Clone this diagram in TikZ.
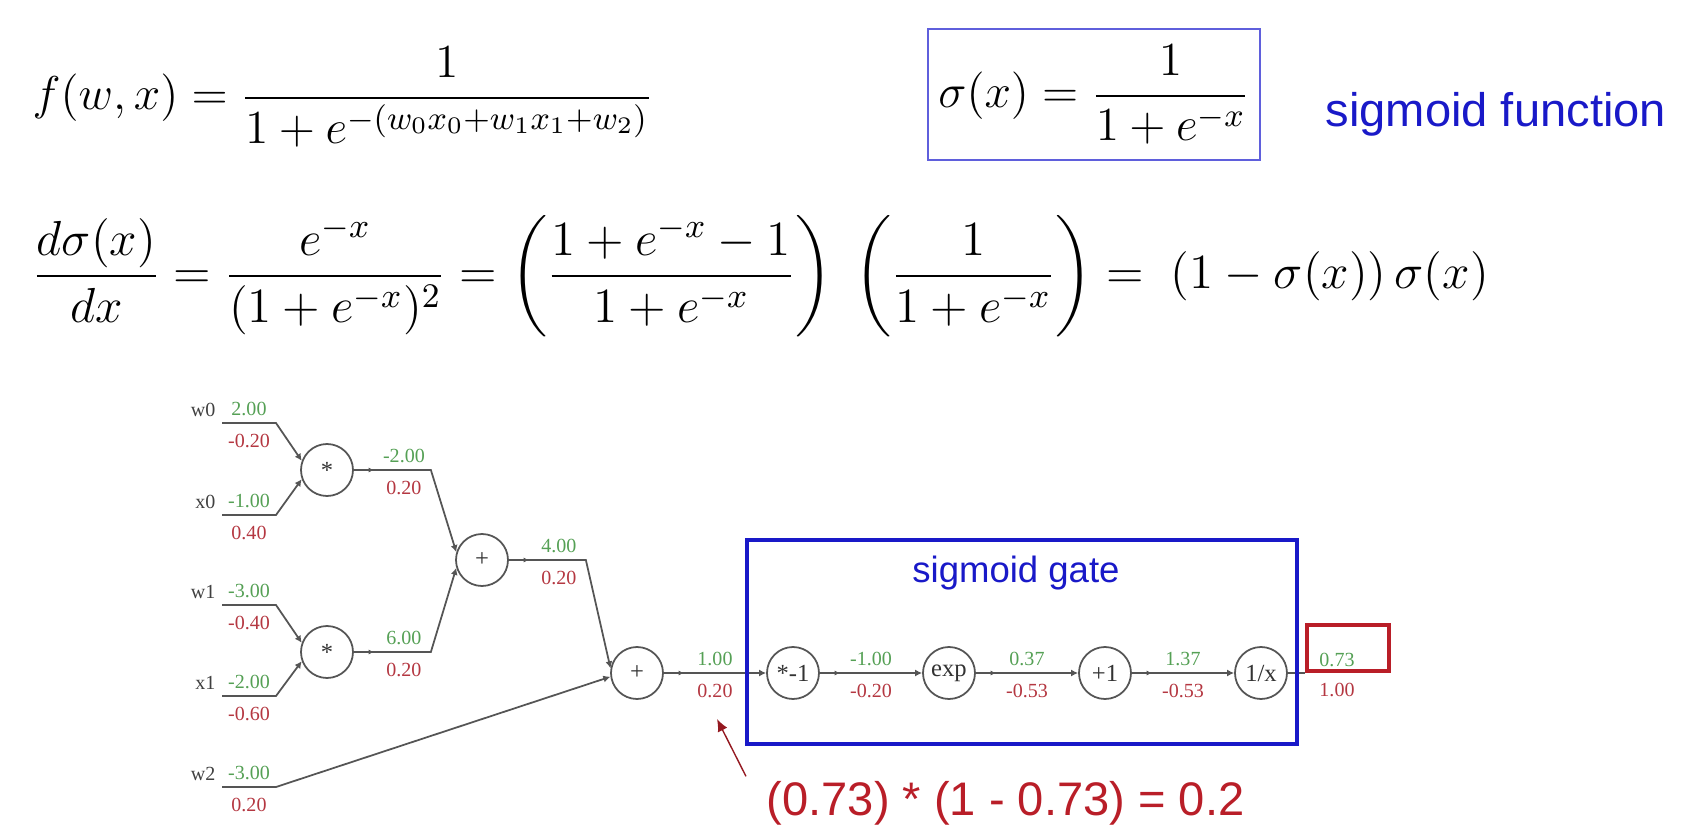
\RequirePackage{fix-cm}
\documentclass[tikz,border=0pt]{standalone}
\usepackage{amsmath}
\usepackage{fontspec}
\usepackage{tikz}
\usetikzlibrary{arrows.meta,positioning,decorations.markings}
\newfontfamily\valfont{Liberation Serif}
\newfontfamily\notefont{Liberation Sans}
\definecolor{valgreen}{RGB}{85,160,85}
\definecolor{valred}{RGB}{180,55,65}
\definecolor{wiregray}{RGB}{85,85,85}
\definecolor{gateblue}{RGB}{25,25,200}
\definecolor{boxblue}{RGB}{95,95,220}
\definecolor{notered}{RGB}{185,30,40}

\begin{document}
\begin{tikzpicture}[
  op/.style={circle,draw=wiregray,line width=0.5pt,minimum size=0.52cm,inner sep=0pt,text=black!80,font=\valfont\fontsize{7}{8}\selectfont},
  wire/.style={draw=wiregray,line width=0.5pt,-{Latex[length=2pt,width=2pt]}},
  flow/.style={wire,postaction={decorate},decoration={markings,mark=at position 0.2cm with {\arrow{Latex[length=1.5pt,width=1.5pt]}}}},
  gval/.style={above,inner sep=1.7pt,text=valgreen,font=\valfont\fontsize{5.7}{6}\selectfont},
  rval/.style={below,inner sep=2.8pt,text=valred,font=\valfont\fontsize{5.7}{6}\selectfont},
  inlbl/.style={above left,inner sep=1.7pt,text=black!75,font=\valfont\fontsize{5.7}{6}\selectfont},
  formula/.style={inner sep=0pt,font=\fontsize{13.5}{16}\selectfont},
  title/.style={text=gateblue,font=\notefont\fontsize{13.4}{16}\selectfont},
]
  \useasboundingbox (0,0) rectangle (16.96,-8.28);

  % formulas on top
  \node[formula,anchor=west] (fdef) at (0.32,-0.97) {$\displaystyle f(w,x)=\frac{1}{1+e^{-(w_0x_0+w_1x_1+w_2)}}$};
  \node[formula,draw=boxblue,line width=0.6pt,inner xsep=0.04cm,minimum width=3.32cm,minimum height=1.31cm] (sdef) at (10.94,-0.945) {$\displaystyle \sigma(x)=\frac{1}{1+e^{-x}}$};
  \node[title,anchor=west,inner sep=0pt] (sfun) at (13.25,-1.14) {sigmoid function};
  \node[formula,font=\fontsize{14}{17}\selectfont,anchor=west] (dsig) at (0.32,-2.76) {$\displaystyle \frac{d\sigma(x)}{dx}=\frac{e^{-x}}{(1+e^{-x})^2}=\left(\frac{1+e^{-x}-1}{1+e^{-x}}\right)\;\left(\frac{1}{1+e^{-x}}\right)=\;(1-\sigma(x))\,\sigma(x)$};

  % gates
  \node[op] (mul0) at (3.27,-4.70) {*};
  \node[op] (mul1) at (3.27,-6.52) {*};
  \node[op] (add0) at (4.82,-5.60) {+};
  \foreach \n/\t [count=\i from 0] in {add1/+,neg/*-1,exp/exp,inc/+1,inv/{1/x}}
    \node[op] (\n) at (6.37+1.56*\i,-6.73) {\t};

  % inputs
  \foreach \n/\y/\g/\r/\t in {w0/4.23/2.00/-0.20/mul0.160, x0/5.15/-1.00/0.40/mul0.200,
      w1/6.05/-3.00/-0.40/mul1.160, x1/6.96/-2.00/-0.60/mul1.200, w2/7.87/-3.00/0.20/add1.188} {
    \coordinate (\n) at (2.22,-\y);
    \node[inlbl] (l-\n) at (\n) {\n};
    \draw[wire] (\n) -- node[gval] (g-\n) {\g} node[rval] (r-\n) {\r} ++(0.54,0) -- (\t);
  }

  % wires with a bend
  \foreach \a/\b/\g/\r in {mul0/add0.163/-2.00/0.20, mul1/add0.197/6.00/0.20, add0/add1.170/4.00/0.20}
    \draw[flow] (\a.east) -- node[gval,pos=0.65] (g-\a) {\g} node[rval,pos=0.65] (r-\a) {\r} ++(0.77,0) -- (\b);

  % sigmoid chain
  \foreach \a/\b/\g/\r in {add1/neg/1.00/0.20, neg/exp/-1.00/-0.20, exp/inc/0.37/-0.53, inc/inv/1.37/-0.53}
    \draw[flow] (\a) -- node[gval] (g-\a) {\g} node[rval] (r-\a) {\r} (\b);

  % output
  \node[draw=notered,line width=1.1pt,minimum width=0.82cm,minimum height=0.46cm,anchor=south west] (outv) at (13.05,-6.73) {};
  \draw[draw=wiregray,line width=0.5pt] (inv) -- (outv.south west);
  \node[gval] (g-inv) at (13.37,-6.73) {0.73};
  \node[rval] (r-inv) at (13.37,-6.73) {1.00};

  \node[draw=gateblue,line width=1.1pt,minimum width=5.50cm,minimum height=2.04cm] (gate) at (10.22,-6.42) {};
  \node[title,font=\notefont\fontsize{10.4}{12}\selectfont,inner sep=0pt] (gtitle) at (10.16,-5.73) {sigmoid gate};

  % local gradient note
  \node[title,text=notered,anchor=west,inner xsep=0.2cm,inner ysep=0.04cm] (chain) at (7.46,-8.03) {(0.73) * (1 - 0.73) = 0.2};
  \coordinate (tip) at (7.17,-7.19);
  \draw[draw=notered!80!black,line width=0.4pt,-{Latex[length=3.5pt,width=3pt]}] (chain.north west) -- (tip);
\end{tikzpicture}
\end{document}
